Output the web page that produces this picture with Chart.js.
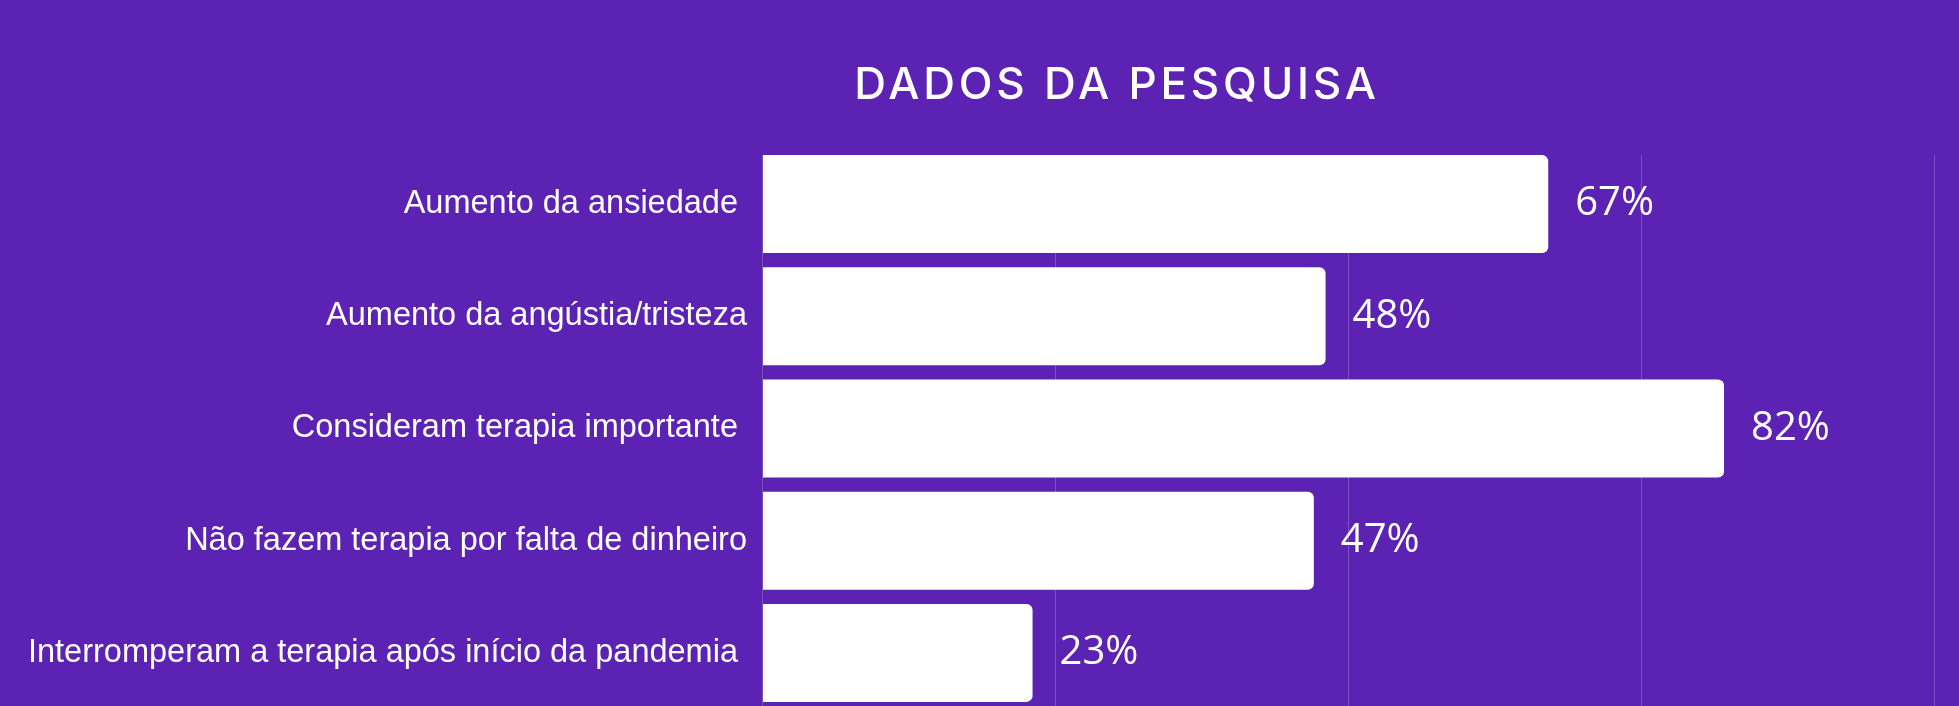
<!DOCTYPE html>
<html>
<head>
<meta charset="utf-8">
<script src="https://cdn.jsdelivr.net/npm/chart.js@4/dist/chart.umd.min.js"></script>
<style>
  html, body { margin: 0; padding: 0; background: #5b22b4; overflow: hidden; }
  #wrap { position: relative; width: 1959px; height: 709px; }
</style>
</head>
<body>
<div id="wrap"><canvas id="c"></canvas></div>
<script>
const titleText = "DADOS DA PESQUISA";
const categories = [
  "Aumento da ansiedade ",
  "Aumento da angústia/tristeza",
  "Consideram terapia importante ",
  "Não fazem terapia por falta de dinheiro",
  "Interromperam a terapia após início da pandemia "
];
const values = [67, 48, 82, 47, 23];
const valueLabels = ["67%", "48%", "82%", "47%", "23%"];
const xTickValues = [0, 25, 50, 75, 100];

const BG = "#5b22b4";
const GRID = "rgba(255,255,255,0.2)";

const bgPlugin = {
  id: "bg",
  beforeDraw(chart) {
    const ctx = chart.ctx;
    ctx.save();
    ctx.fillStyle = BG;
    ctx.fillRect(0, 0, chart.width, chart.height);
    ctx.restore();
  }
};

// grid lines from the x scale, starting at the top edge of the first bar
const gridPlugin = {
  id: "gridFromBars",
  beforeDatasetsDraw(chart) {
    const ctx = chart.ctx;
    const xs = chart.scales.x;
    const first = chart.getDatasetMeta(0).data[0];
    const top = first.y - first.height / 2;
    const bottom = chart.chartArea.bottom;
    ctx.save();
    ctx.strokeStyle = GRID;
    ctx.lineWidth = 1;
    xs.ticks.forEach(t => {
      const x = Math.round(xs.getPixelForValue(t.value)) - 0.5;
      ctx.beginPath();
      ctx.moveTo(x, top);
      ctx.lineTo(x, bottom);
      ctx.stroke();
    });
    ctx.restore();
  }
};

const titlePlugin = {
  id: "customTitle",
  afterDraw(chart) {
    const ctx = chart.ctx;
    ctx.save();
    ctx.fillStyle = "#ffffff";
    ctx.font = "500 44px Inter";
    ctx.letterSpacing = "3.8px";
    ctx.textAlign = "center";
    ctx.textBaseline = "middle";
    ctx.fillText(titleText, 1117, 86);
    ctx.restore();
  }
};

const valueLabelPlugin = {
  id: "valueLabels",
  afterDatasetsDraw(chart) {
    const ctx = chart.ctx;
    const meta = chart.getDatasetMeta(0);
    ctx.save();
    ctx.fillStyle = "#ffffff";
    ctx.font = "40px 'Open Sans'";
    ctx.textAlign = "left";
    ctx.textBaseline = "middle";
    meta.data.forEach((bar, i) => {
      ctx.fillText(valueLabels[i], bar.x + 27, bar.y);
    });
    ctx.restore();
  }
};

new Chart(document.getElementById("c"), {
  type: "bar",
  data: {
    labels: categories,
    datasets: [{
      data: values,
      backgroundColor: "#ffffff",
      borderWidth: 0,
      borderRadius: 6,
      borderSkipped: "start",
      categoryPercentage: 1.0,
      barPercentage: 0.873
    }]
  },
  options: {
    indexAxis: "y",
    responsive: true,
    maintainAspectRatio: false,
    animation: false,
    layout: { padding: { top: 148, right: 24, bottom: 0, left: 0 } },
    plugins: {
      legend: { display: false },
      title: { display: false },
      tooltip: { enabled: false }
    },
    scales: {
      x: {
        min: 0,
        max: 100,
        afterBuildTicks(scale) {
          scale.ticks = xTickValues.map(v => ({ value: v }));
        },
        afterFit(scale) {
          scale.height = 0;
          scale.paddingLeft = 0; scale.paddingRight = 0;
          scale.paddingTop = 0; scale.paddingBottom = 0;
        },
        ticks: { display: false },
        border: { display: false },
        grid: { display: false, drawTicks: false }
      },
      y: {
        afterFit(scale) {
          scale.width = 763;
          scale.paddingTop = 0;
          scale.paddingBottom = 0;
        },
        border: { display: false },
        grid: { display: false, drawTicks: false },
        ticks: {
          color: "#ffffff",
          padding: 16,
          font: { family: "'Liberation Sans', Arial, sans-serif", size: 32.5 }
        }
      }
    }
  },
  plugins: [bgPlugin, gridPlugin, titlePlugin, valueLabelPlugin]
});
</script>
</body>
</html>
